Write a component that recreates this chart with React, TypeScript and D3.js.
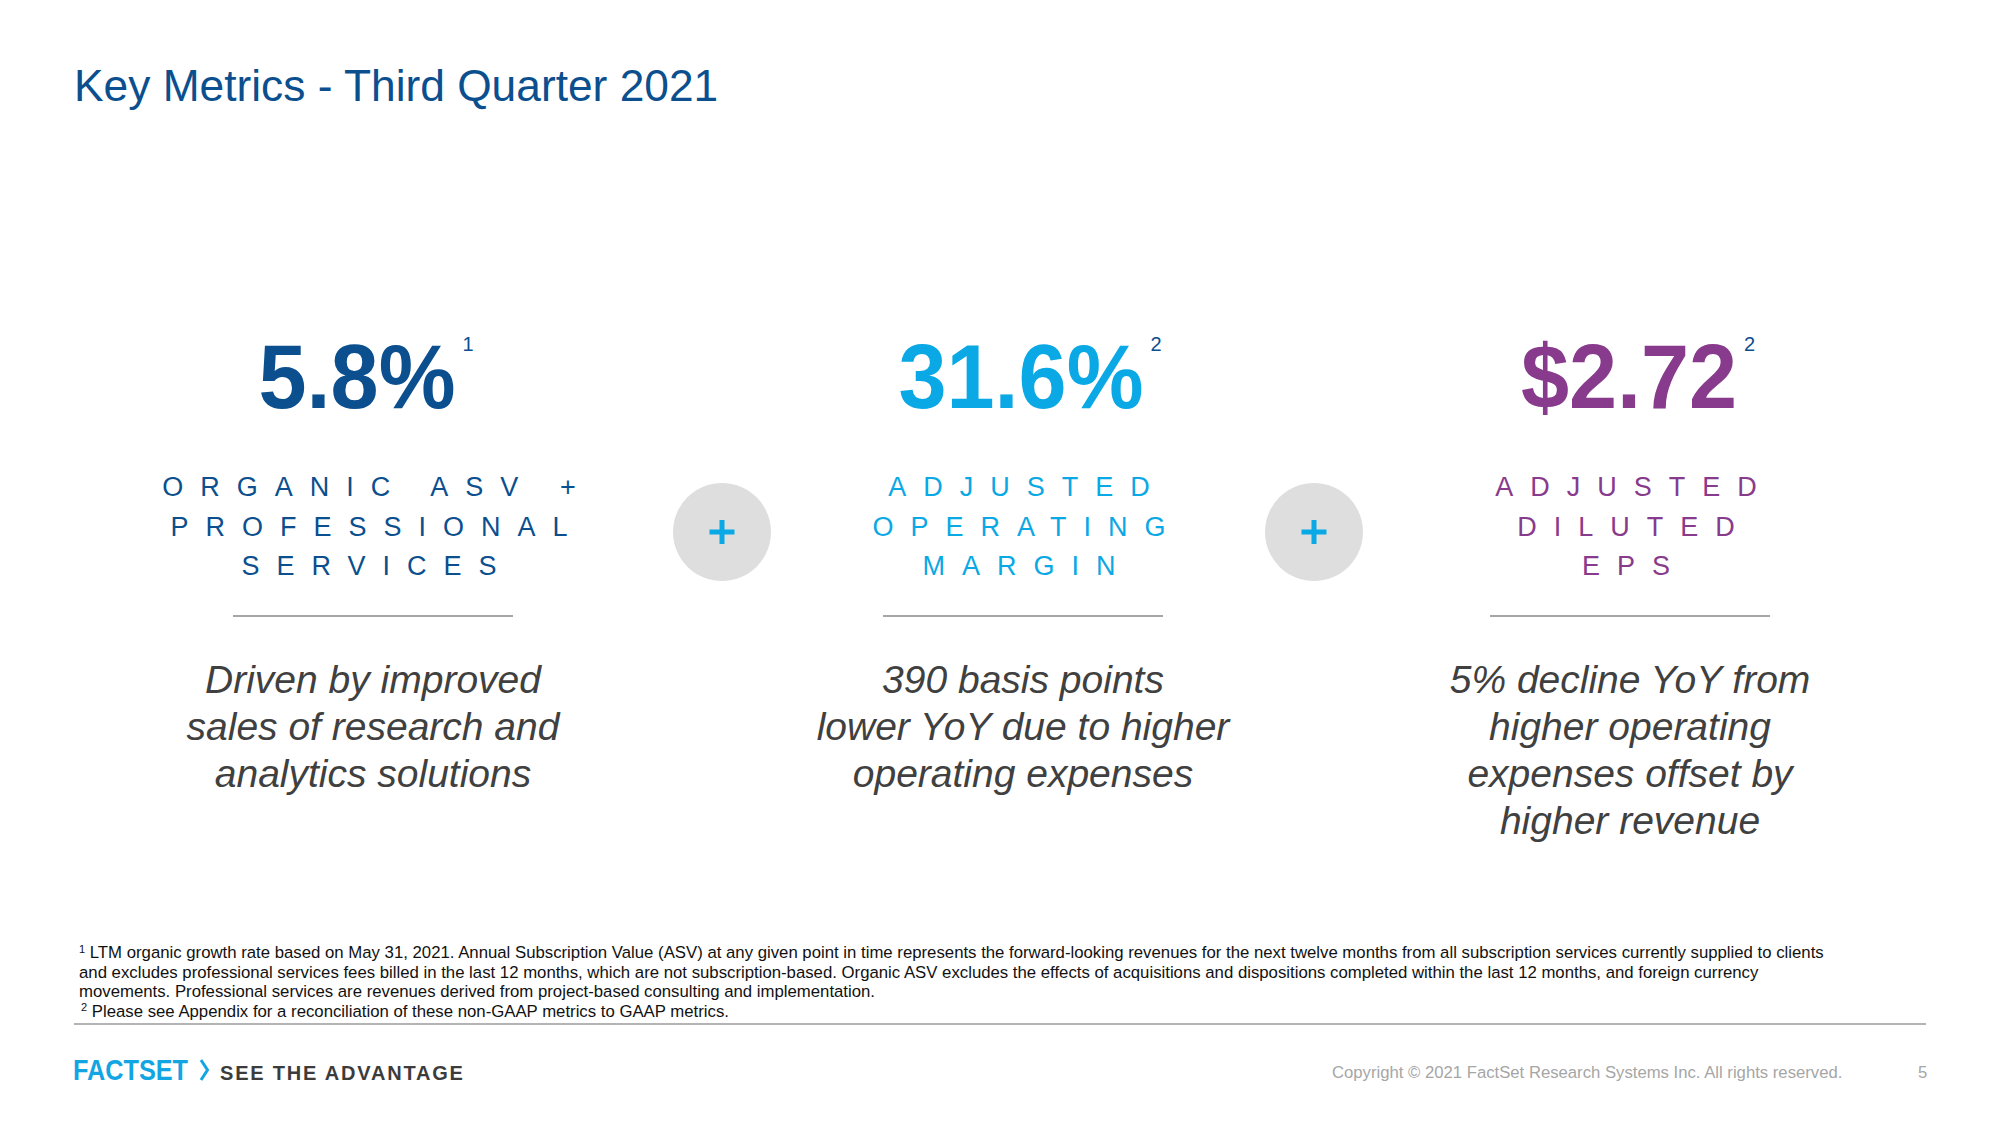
import React, { useEffect, useRef } from "react";
import * as d3 from "d3";

// ---- data ----
const slideTitle = "Key Metrics - Third Quarter 2021";
const metricKeys = ["asv", "margin", "eps"];
const metricValues = ["5.8%", "31.6%", "$2.72"];
const metricNotes = ["1", "2", "2"];
const metricLabels = [
  ["ORGANIC ASV +", "PROFESSIONAL", "SERVICES"],
  ["ADJUSTED", "OPERATING", "MARGIN"],
  ["ADJUSTED", "DILUTED", "EPS"],
];
const metricDescriptions = [
  ["Driven by improved", "sales of research and", "analytics solutions"],
  ["390 basis points", "lower YoY due to higher", "operating expenses"],
  ["5% decline YoY from", "higher operating", "expenses offset by", "higher revenue"],
];
const footnoteLines = [
  { sup: "1", text: "LTM organic growth rate based on May 31, 2021. Annual Subscription Value (ASV) at any given point in time represents the forward-looking revenues for the next twelve months from all subscription services currently supplied to clients" },
  { sup: "", text: "and excludes professional services fees billed in the last 12 months, which are not subscription-based. Organic ASV excludes the effects of acquisitions and dispositions completed within the last 12 months, and foreign currency" },
  { sup: "", text: "movements. Professional services are revenues derived from project-based consulting and implementation." },
  { sup: "2", text: "Please see Appendix for a reconciliation of these non-GAAP metrics to GAAP metrics." },
];
const brandName = "FACTSET";
const brandTagline = "SEE THE ADVANTAGE";
const copyrightText = "Copyright \u00A9 2021 FactSet Research Systems Inc. All rights reserved.";
const pageNumber = "5";

// ---- layout / style ----
const W = 2000;
const H = 1125;
const FONT = "'Liberation Sans', Arial, Helvetica, sans-serif";
const columnCenters = [373, 1023, 1630];
const numberShift = [-16, -2, -1];
const metricColors = ["#0b4f8e", "#0aa8e4", "#883a8c"];
const DARK_BLUE = "#0b4f8e";
const NUM_SX = 0.96;

export default function App() {
  const ref = useRef<SVGSVGElement | null>(null);

  useEffect(() => {
    const svg = d3.select(ref.current);
    svg.selectAll("*").remove();

    const xCol = d3.scaleOrdinal<string, number>().domain(metricKeys).range(columnCenters);
    const color = d3.scaleOrdinal<string, string>().domain(metricKeys).range(metricColors);

    svg.append("rect").attr("width", W).attr("height", H).attr("fill", "#ffffff");

    // title
    svg.append("text")
      .attr("x", 74).attr("y", 101)
      .attr("font-family", FONT).attr("font-size", 44.3)
      .attr("fill", DARK_BLUE)
      .text(slideTitle);

    const labelLineY = d3.scaleLinear().domain([0, 1]).range([496, 535.5]);
    const descLineY = d3.scaleLinear().domain([0, 1]).range([693, 740]);
    const LS = 17;

    metricKeys.forEach((k, i) => {
      const cx = xCol(k);
      const g = svg.append("g");
      // big number
      const numX = cx + numberShift[i];
      const num = g.append("text")
        .attr("transform", `translate(${numX},408) scale(${NUM_SX},1)`)
        .attr("text-anchor", "middle")
        .attr("font-family", FONT).attr("font-size", 90).attr("font-weight", "bold")
        .attr("fill", color(k))
        .text(metricValues[i]);
      const len = (num.node() as SVGTextElement).getComputedTextLength() * NUM_SX;
      g.append("text")
        .attr("x", numX + len / 2 + 7).attr("y", 351)
        .attr("font-family", FONT).attr("font-size", 20)
        .attr("fill", DARK_BLUE)
        .text(metricNotes[i]);

      // label
      metricLabels[i].forEach((line, j) => {
        g.append("text")
          .attr("x", cx - 4 + LS / 2).attr("y", labelLineY(j))
          .attr("text-anchor", "middle")
          .attr("font-family", FONT).attr("font-size", 27)
          .attr("letter-spacing", LS)
          .attr("fill", color(k))
          .text(line);
      });

      // separator
      g.append("line")
        .attr("x1", cx - 140).attr("x2", cx + 140)
        .attr("y1", 616).attr("y2", 616)
        .attr("stroke", "#a6a6a6").attr("stroke-width", 2);

      // description
      metricDescriptions[i].forEach((line, j) => {
        g.append("text")
          .attr("x", cx).attr("y", descLineY(j))
          .attr("text-anchor", "middle")
          .attr("font-family", FONT).attr("font-size", 39).attr("font-style", "italic")
          .attr("fill", "#404040")
          .text(line);
      });
    });

    // plus circles between columns
    const plusX = [722, 1314];
    plusX.forEach((px) => {
      const g = svg.append("g").attr("transform", `translate(${px},532)`);
      g.append("circle").attr("r", 49).attr("fill", "#dedede");
      g.append("line").attr("x1", -12.5).attr("x2", 12.5).attr("stroke", "#0aa8e4").attr("stroke-width", 5);
      g.append("line").attr("y1", -12).attr("y2", 12).attr("stroke", "#0aa8e4").attr("stroke-width", 5);
    });

    // footnotes
    const fnY = d3.scaleLinear().domain([0, 1]).range([958, 977.5]);
    const FN = 16.75;
    footnoteLines.forEach((f, i) => {
      const t = svg.append("text")
        .attr("x", f.sup === "2" ? 81 : 79).attr("y", fnY(i))
        .attr("font-family", FONT).attr("font-size", FN)
        .attr("fill", "#111111");
      if (f.sup) {
        t.append("tspan").attr("font-size", 11).attr("dy", -5.5).text(f.sup);
        t.append("tspan").attr("dy", 5.5).text(" " + f.text);
      } else {
        t.append("tspan").text(f.text);
      }
    });

    // footer rule
    svg.append("line")
      .attr("x1", 74).attr("x2", 1926).attr("y1", 1024).attr("y2", 1024)
      .attr("stroke", "#b4b4b4").attr("stroke-width", 2);

    // brand
    svg.append("text")
      .attr("x", 73).attr("y", 1080)
      .attr("font-family", FONT).attr("font-size", 30).attr("font-weight", "bold")
      .attr("textLength", 115).attr("lengthAdjust", "spacingAndGlyphs")
      .attr("fill", "#12a5e3")
      .text(brandName);
    svg.append("path")
      .attr("d", "M201,1060 L207.5,1070 L201,1080")
      .attr("fill", "none").attr("stroke", "#12a5e3").attr("stroke-width", 3);
    svg.append("text")
      .attr("x", 220).attr("y", 1080)
      .attr("font-family", FONT).attr("font-size", 20).attr("font-weight", "bold")
      .attr("letter-spacing", 1.8)
      .attr("fill", "#3c3c3c")
      .text(brandTagline);

    svg.append("text")
      .attr("x", 1332).attr("y", 1078)
      .attr("font-family", FONT).attr("font-size", 16.7)
      .attr("fill", "#a6a6a6")
      .text(copyrightText);
    svg.append("text")
      .attr("x", 1918).attr("y", 1078)
      .attr("font-family", FONT).attr("font-size", 16.7)
      .attr("fill", "#a6a6a6")
      .text(pageNumber);
  }, []);

  return (
    <svg
      ref={ref}
      width={W}
      height={H}
      style={{ position: "absolute", left: 0, top: 0, display: "block" }}
    />
  );
}
